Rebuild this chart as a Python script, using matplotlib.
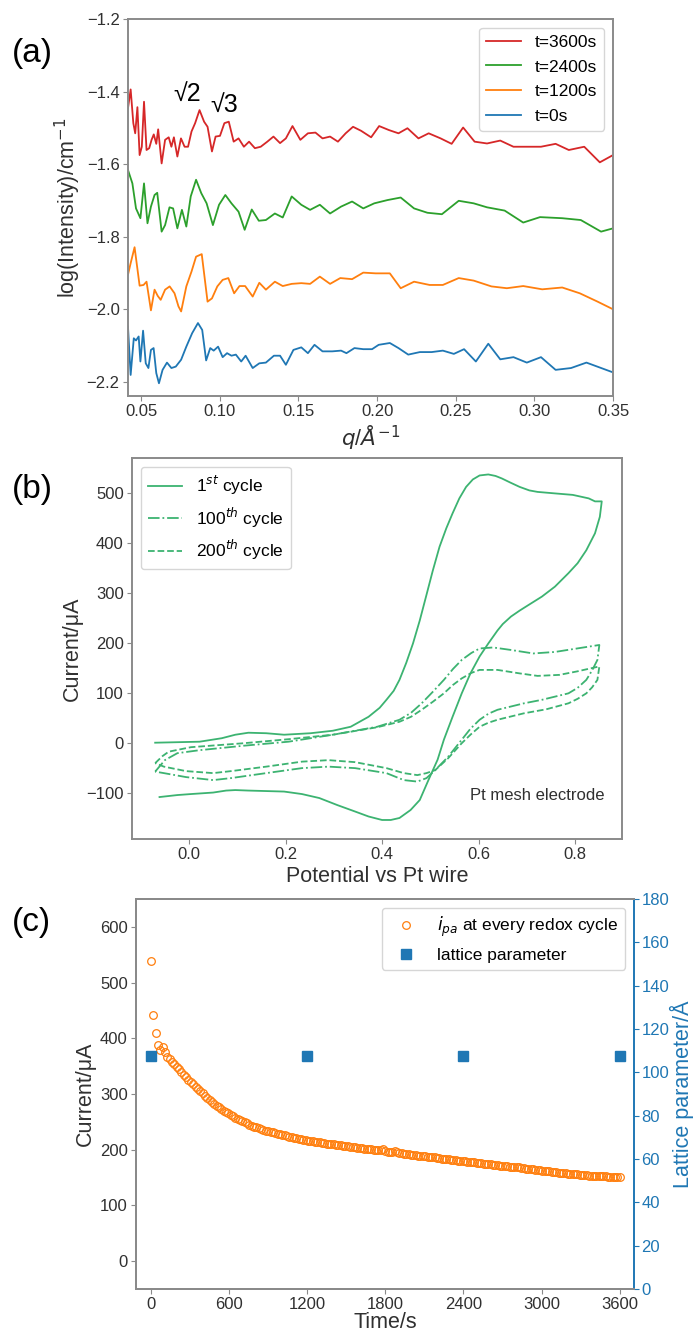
import numpy as np
import matplotlib
matplotlib.use("Agg")
import matplotlib.pyplot as plt
from matplotlib.pyplot import MultipleLocator

plt.rcParams['font.family'] = ['Liberation Sans', 'DejaVu Sans']
plt.rcParams['axes.edgecolor'] = '#8a8a8a'
plt.rcParams['axes.linewidth'] = 1.4
plt.rcParams['xtick.color'] = '#8a8a8a'
plt.rcParams['ytick.color'] = '#8a8a8a'
plt.rcParams['xtick.labelcolor'] = '#303030'
plt.rcParams['ytick.labelcolor'] = '#303030'
plt.rcParams['axes.labelcolor'] = '#303030'
plt.rcParams['xtick.labelsize'] = 12
plt.rcParams['ytick.labelsize'] = 12
plt.rcParams['xtick.major.pad'] = 2.5
plt.rcParams['ytick.major.pad'] = 2.5
plt.rcParams['axes.labelpad'] = 2.5

# ---------------- (a) SAXS curves ----------------
q_3600 = [0.0416, 0.0433, 0.045, 0.0462, 0.0476, 0.049, 0.0504, 0.0518, 0.0534, 0.0551,
          0.0566, 0.058, 0.0596, 0.0608, 0.063, 0.0652, 0.0675, 0.0692, 0.0708, 0.073,
          0.0753, 0.0776, 0.0798, 0.082, 0.0843, 0.0871, 0.09, 0.0922, 0.095, 0.0973,
          0.1001, 0.1029, 0.1057, 0.1088, 0.1119, 0.1153, 0.1186, 0.1223, 0.126, 0.1302,
          0.1341, 0.1383, 0.142, 0.1462, 0.1512, 0.156, 0.1608, 0.1653, 0.1701, 0.1751,
          0.18, 0.1847, 0.1898, 0.1962, 0.2013, 0.2075, 0.2136, 0.2193, 0.2263, 0.2328,
          0.2404, 0.2474, 0.2547, 0.262, 0.2699, 0.2783, 0.2867, 0.2952, 0.3042, 0.3135,
          0.3219, 0.3317, 0.3416, 0.35]
I_3600 = [-1.446, -1.394, -1.487, -1.515, -1.443, -1.575, -1.552, -1.428, -1.561, -1.556,
          -1.533, -1.518, -1.544, -1.504, -1.598, -1.533, -1.526, -1.552, -1.526, -1.579,
          -1.529, -1.552, -1.552, -1.510, -1.487, -1.451, -1.483, -1.497, -1.565, -1.524,
          -1.522, -1.487, -1.483, -1.538, -1.529, -1.552, -1.538, -1.556, -1.552, -1.538,
          -1.524, -1.542, -1.529, -1.495, -1.533, -1.515, -1.513, -1.529, -1.524, -1.538,
          -1.515, -1.497, -1.508, -1.526, -1.495, -1.506, -1.515, -1.501, -1.529, -1.515,
          -1.529, -1.544, -1.499, -1.538, -1.543, -1.535, -1.552, -1.552, -1.552, -1.544,
          -1.561, -1.552, -1.595, -1.575]

q_2400 = [0.0416, 0.0444, 0.0467, 0.0495, 0.0518, 0.054, 0.0562, 0.0585, 0.0602, 0.063,
          0.0652, 0.068, 0.0703, 0.073, 0.0759, 0.0787, 0.0815, 0.0849, 0.0882, 0.0916,
          0.0956, 0.0995, 0.1035, 0.1074, 0.1119, 0.1158, 0.1203, 0.1248, 0.1293, 0.135,
          0.14, 0.1457, 0.1518, 0.1574, 0.1636, 0.1701, 0.1771, 0.1841, 0.1912, 0.1982,
          0.2066, 0.215, 0.2235, 0.232, 0.2412, 0.2519, 0.2614, 0.2699, 0.2811, 0.2929,
          0.3036, 0.3177, 0.3295, 0.3424, 0.35]
I_2400 = [-1.616, -1.653, -1.722, -1.749, -1.653, -1.763, -1.717, -1.685, -1.679, -1.786,
          -1.768, -1.719, -1.722, -1.777, -1.726, -1.772, -1.689, -1.643, -1.680, -1.708,
          -1.768, -1.712, -1.685, -1.708, -1.731, -1.781, -1.725, -1.756, -1.754, -1.736,
          -1.747, -1.689, -1.712, -1.726, -1.712, -1.736, -1.717, -1.703, -1.722, -1.708,
          -1.699, -1.692, -1.722, -1.734, -1.738, -1.701, -1.708, -1.719, -1.728, -1.761,
          -1.746, -1.749, -1.754, -1.786, -1.777]

q_1200 = [0.0416, 0.0433, 0.0458, 0.049, 0.0515, 0.0534, 0.0562, 0.0585, 0.0605, 0.0624,
          0.0652, 0.0681, 0.0712, 0.0737, 0.0754, 0.0787, 0.082, 0.0849, 0.0885, 0.0922,
          0.095, 0.0984, 0.1018, 0.1054, 0.1091, 0.1125, 0.1161, 0.1209, 0.1251, 0.1293,
          0.135, 0.14, 0.1457, 0.1518, 0.1574, 0.1636, 0.1701, 0.1766, 0.1841, 0.1912,
          0.1991, 0.2081, 0.215, 0.2235, 0.2334, 0.2418, 0.2519, 0.2614, 0.2727, 0.2825,
          0.2929, 0.305, 0.3177, 0.3289, 0.3402, 0.35]
I_1200 = [-1.905, -1.873, -1.829, -1.935, -1.933, -1.924, -2.003, -1.946, -1.963, -1.974,
          -1.946, -1.937, -1.956, -1.992, -2.006, -1.937, -1.896, -1.855, -1.848, -1.979,
          -1.970, -1.937, -1.919, -1.914, -1.956, -1.936, -1.936, -1.965, -1.927, -1.946,
          -1.924, -1.936, -1.930, -1.928, -1.930, -1.910, -1.930, -1.914, -1.917, -1.899,
          -1.901, -1.901, -1.942, -1.924, -1.933, -1.933, -1.914, -1.921, -1.937, -1.942,
          -1.936, -1.945, -1.940, -1.956, -1.979, -2.000]

q_0 = [0.0416, 0.0433, 0.0453, 0.0467, 0.0484, 0.0495, 0.0512, 0.0529, 0.0546, 0.0562,
       0.0579, 0.0596, 0.0613, 0.0636, 0.0664, 0.0692, 0.072, 0.0754, 0.0787, 0.0824,
       0.0861, 0.0888, 0.0913, 0.0939, 0.0961, 0.0989, 0.1018, 0.1046, 0.1074, 0.1102,
       0.1136, 0.1164, 0.1209, 0.1251, 0.1293, 0.1344, 0.1383, 0.142, 0.1468, 0.1518,
       0.156, 0.1602, 0.1653, 0.1715, 0.1771, 0.1805, 0.1856, 0.1912, 0.1968, 0.201,
       0.2081, 0.2136, 0.2198, 0.2272, 0.2347, 0.2418, 0.2488, 0.2553, 0.2628, 0.2707,
       0.2783, 0.2867, 0.2952, 0.3042, 0.3135, 0.3233, 0.3331, 0.35]
I_0 = [-2.048, -2.181, -2.080, -2.086, -2.075, -2.144, -2.059, -2.149, -2.162, -2.112,
       -2.107, -2.176, -2.204, -2.167, -2.147, -2.162, -2.158, -2.139, -2.103, -2.066,
       -2.038, -2.057, -2.141, -2.107, -2.114, -2.103, -2.132, -2.121, -2.128, -2.125,
       -2.144, -2.128, -2.162, -2.149, -2.147, -2.128, -2.128, -2.153, -2.112, -2.105,
       -2.121, -2.098, -2.116, -2.116, -2.114, -2.121, -2.107, -2.110, -2.110, -2.098,
       -2.093, -2.107, -2.125, -2.118, -2.118, -2.114, -2.123, -2.110, -2.144, -2.095,
       -2.138, -2.132, -2.147, -2.132, -2.167, -2.162, -2.147, -2.174]

# ---------------- (b) cyclic voltammograms ----------------
E_c1 = [-0.07, 0.022, 0.068, 0.096, 0.123, 0.16, 0.197, 0.252, 0.298, 0.335, 0.372, 0.395,
        0.409, 0.424, 0.436, 0.45, 0.464, 0.478, 0.491, 0.505, 0.519, 0.533, 0.546, 0.56,
        0.574, 0.588, 0.602, 0.62, 0.635, 0.648, 0.665, 0.685, 0.705, 0.722, 0.758,
        0.795, 0.828, 0.841, 0.855,
        0.851, 0.841, 0.823, 0.805, 0.786, 0.758, 0.731, 0.703, 0.685, 0.667, 0.65, 0.639,
        0.62, 0.602, 0.583, 0.565, 0.546, 0.528, 0.515, 0.496, 0.478, 0.459, 0.436, 0.418,
        0.4, 0.372, 0.344, 0.307, 0.27, 0.234, 0.197, 0.16, 0.123, 0.096, 0.077, 0.05,
        0.004, -0.024, -0.061]
I_c1 = [0, 2, 9, 16, 20, 19, 16, 19, 24, 32, 52, 70,
        86, 104, 126, 160, 199, 245, 293, 345, 393, 430, 460, 490,
        513, 528, 536, 538, 535, 530, 522, 513, 506, 503, 500,
        497, 490, 484, 484,
        453, 420, 386, 360, 340, 313, 293, 276, 265, 253, 238, 225,
        199, 173, 139, 99, 52, 6, -34, -75, -115, -135, -151, -155,
        -155, -148, -138, -125, -111, -103, -98, -97, -96, -95, -96, -100,
        -103, -105, -109]

E_c100 = [-0.07, -0.05, -0.024, 0.022, 0.114, 0.206, 0.298, 0.39, 0.436, 0.46, 0.482,
          0.505, 0.528, 0.547, 0.565, 0.585, 0.602, 0.63, 0.667, 0.713, 0.758, 0.804, 0.85,
          0.846, 0.835, 0.823, 0.805, 0.786, 0.731, 0.694, 0.639, 0.62, 0.602, 0.583,
          0.565, 0.537, 0.51, 0.492, 0.473, 0.445, 0.409, 0.344, 0.289, 0.234, 0.16,
          0.087, 0.05, -0.006, -0.052, -0.07]
I_c100 = [-58, -35, -21, -15, -6, 2, 16, 32, 46, 60, 79,
          102, 126, 148, 166, 180, 189, 191, 186, 179, 182, 189, 196,
          166, 145, 126, 110, 99, 86, 79, 66, 58, 46, 28,
          6, -28, -55, -71, -78, -75, -61, -51, -48, -51, -61,
          -71, -75, -69, -61, -58]

E_c200 = [-0.07, -0.055, -0.042, 0.004, 0.114, 0.206, 0.298, 0.39, 0.436, 0.46, 0.482,
          0.505, 0.528, 0.547, 0.565, 0.585, 0.602, 0.639, 0.685, 0.722, 0.767, 0.804, 0.85,
          0.846, 0.835, 0.823, 0.805, 0.786, 0.74, 0.694, 0.639, 0.62, 0.602, 0.583,
          0.565, 0.537, 0.51, 0.492, 0.473, 0.445, 0.409, 0.344, 0.289, 0.234, 0.16,
          0.087, 0.05, -0.006, -0.052, -0.07]
I_c200 = [-41, -27, -18, -9, -1, 7, 16, 31, 42, 52, 66,
          82, 99, 116, 129, 140, 146, 146, 139, 134, 136, 143, 153,
          126, 111, 99, 88, 79, 67, 59, 46, 40, 32, 16,
          -1, -31, -55, -61, -65, -61, -51, -39, -35, -38, -48,
          -57, -61, -57, -48, -41]

# ---------------- (c) peak current and lattice parameter ----------------
cycle_period = 18  # s
ipa = [538, 442, 410, 388, 379, 385, 375, 366, 362, 357,
       353, 348, 344, 339, 334, 330, 325, 321, 317, 313,
       309, 305, 301, 297, 293, 289, 286, 282, 279, 276,
       273, 270, 267, 265, 262, 260, 257, 255, 253, 251,
       249, 247, 245, 243, 241, 240, 238, 237, 236, 234,
       233, 232, 231, 230, 229, 228, 226.5, 225.5, 224.5, 223.5,
       222.5, 221.5, 220.5, 219.5, 219, 218, 217, 216, 215.5, 215,
       214.5, 214, 213, 212.5, 212, 211, 210.5, 210, 209.5, 209,
       208, 207.5, 207, 206.5, 206, 205.5, 205, 204, 203.5, 203,
       202.5, 202, 201.5, 201, 200.5, 200, 199.5, 199, 198.5, 201,
       197, 196.5, 196, 195.5, 197, 195, 194, 193.5, 193, 192.5,
       192, 191, 190.5, 190, 189.5, 189, 188.5, 188, 187.5, 187,
       186.5, 186, 185.5, 185, 184, 183.5, 183, 182.5, 182, 181.5,
       181, 180.5, 180, 179.5, 179, 178.5, 178, 177.5, 177, 176.5,
       176, 175.5, 175, 174.5, 174, 173.5, 173, 172.5, 172, 171.5,
       171, 170.5, 170, 169.5, 169, 168.5, 168, 169, 167, 166.5,
       166, 165.5, 165, 164.5, 164, 163.5, 163, 162.5, 162, 161.5,
       161, 160.5, 160, 159.5, 159, 158.5, 158, 157.5, 157, 156.5,
       156, 155.5, 155.5, 155, 154.5, 154.5, 154, 153.5, 153.5, 153,
       153, 152.5, 152.5, 152, 152, 151.5, 151.5, 151, 151, 151,
       150.5]
t_ipa = [i * cycle_period for i in range(len(ipa))]

t_lat = [0, 1200, 2400, 3600]
lattice = [107.5, 107.5, 107.5, 107.5]

cv_color = 'mediumseagreen'
lab_fs = 15.5

fig = plt.figure(figsize=(6.94, 13.31), dpi=100)

# ---- panel (a)
ax1 = fig.add_axes([0.1844, 0.7025, 0.6989, 0.2832])
l0, = ax1.plot(q_0, I_0, color='tab:blue', lw=1.3, label='t=0s')
l1, = ax1.plot(q_1200, I_1200, color='tab:orange', lw=1.3, label='t=1200s')
l2, = ax1.plot(q_2400, I_2400, color='tab:green', lw=1.3, label='t=2400s')
l3, = ax1.plot(q_3600, I_3600, color='tab:red', lw=1.3, label='t=3600s')
ax1.legend(handles=[l3, l2, l1, l0], loc='upper right', fontsize=12.5, labelspacing=0.55)
ax1.text(0.0794, -1.407, '√2', fontsize=18, ha='center', va='center')
ax1.text(0.1026, -1.437, '√3', fontsize=18, ha='center', va='center')
ax1.set_xlim(0.0416, 0.35)
ax1.set_ylim(-2.239, -1.2)
ax1.xaxis.set_major_locator(MultipleLocator(0.05))
ax1.yaxis.set_major_locator(MultipleLocator(0.2))
ax1.set_xlabel('$q$/$\\AA^{-1}$', fontsize=lab_fs)
ax1.set_ylabel('log(Intensity)/cm$^{-1}$', fontsize=lab_fs)
fig.text(0.046, 0.960, '(a)', fontsize=24, ha='center', va='center')

# ---- panel (b)
ax2 = fig.add_axes([0.1902, 0.3697, 0.7061, 0.2862])
ax2.plot(E_c1, I_c1, color=cv_color, lw=1.3, ls='-', label='1$^{st}$ cycle')
ax2.plot(E_c100, I_c100, color=cv_color, lw=1.3, ls='-.', label='100$^{th}$ cycle')
ax2.plot(E_c200, I_c200, color=cv_color, lw=1.3, ls='--', label='200$^{th}$ cycle')
ax2.legend(loc='upper left', fontsize=12.5)
ax2.text(0.965, 0.113, 'Pt mesh electrode', transform=ax2.transAxes, fontsize=12,
         ha='right', va='center', color='#303030')
ax2.set_xlim(-0.118, 0.897)
ax2.set_ylim(-193, 571)
ax2.xaxis.set_major_locator(MultipleLocator(0.2))
ax2.yaxis.set_major_locator(MultipleLocator(100))
ax2.set_xlabel('Potential vs Pt wire', fontsize=lab_fs)
ax2.set_ylabel('Current/μA', fontsize=lab_fs)
fig.text(0.046, 0.632, '(b)', fontsize=24, ha='center', va='center')

# ---- panel (c)
ax3 = fig.add_axes([0.1960, 0.0316, 0.7175, 0.2930])
p1, = ax3.plot(t_ipa, ipa, ls='none', marker='o', ms=5.5, mfc='none', mec='tab:orange',
               mew=0.9, label='$i_{pa}$ at every redox cycle')
ax3.set_xlim(-115, 3710)
ax3.set_ylim(-50, 650)
ax3.set_xticks([0, 600, 1200, 1800, 2400, 3000, 3600])
ax3.yaxis.set_major_locator(MultipleLocator(100))
ax3.set_xlabel('Time/s', fontsize=lab_fs, labelpad=0)
ax3.set_ylabel('Current/μA', fontsize=lab_fs)

ax4 = ax3.twinx()
p2, = ax4.plot(t_lat, lattice, ls='none', marker='s', ms=7, color='tab:blue',
               label='lattice parameter')
ax4.set_ylim(0, 180)
ax4.yaxis.set_major_locator(MultipleLocator(20))
ax4.set_ylabel('Lattice parameter/Å', fontsize=lab_fs, color='tab:blue', labelpad=0)
ax4.tick_params(axis='y', colors='tab:blue', labelcolor='tab:blue', pad=2)
ax4.spines['right'].set_color('tab:blue')
ax3.spines['right'].set_visible(False)
ax4.legend(handles=[p1, p2], loc='upper right', fontsize=12.5)
fig.text(0.046, 0.307, '(c)', fontsize=24, ha='center', va='center')

fig.savefig('out.png', dpi=100)
